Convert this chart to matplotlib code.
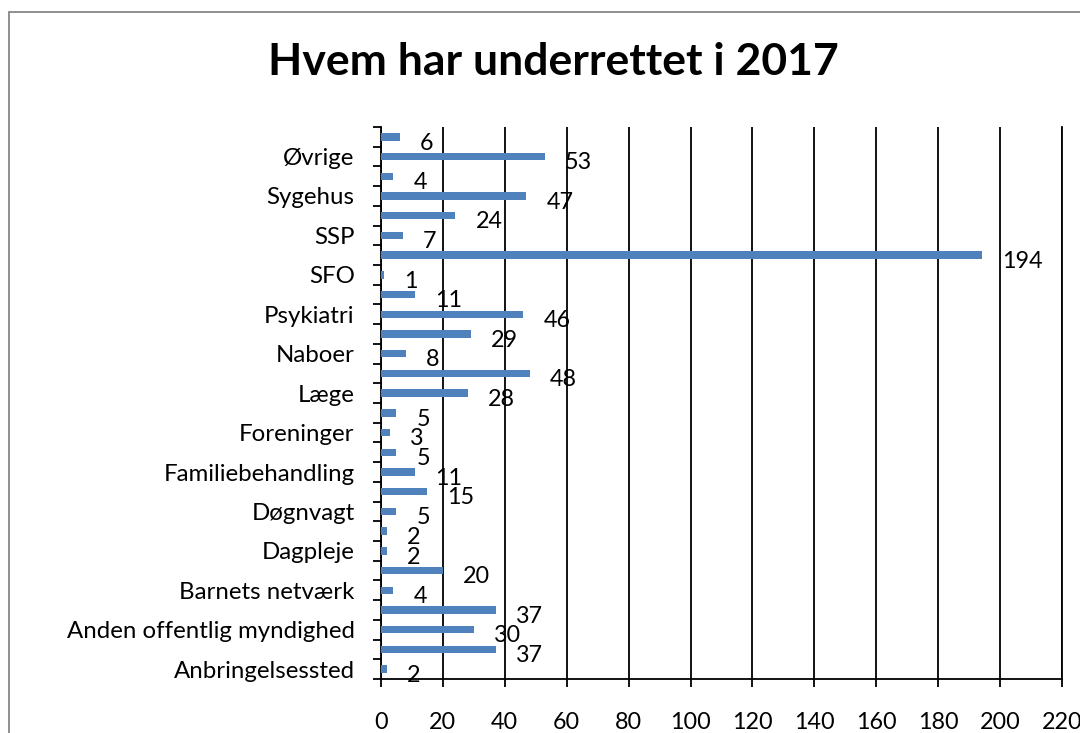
import matplotlib
matplotlib.use("Agg")
import matplotlib.pyplot as plt
from matplotlib.patches import Rectangle
from matplotlib.transforms import ScaledTranslation

plt.rcParams['font.family'] = ['Lato', 'DejaVu Sans']

title = "Hvem har underrettet i 2017"
categories = ["Anbringelsessted", "", "Anden offentlig myndighed", "", "Barnets netværk", "",
              "Dagpleje", "", "Døgnvagt", "", "Familiebehandling", "", "Foreninger", "",
              "Læge", "", "Naboer", "", "Psykiatri", "", "SFO", "", "SSP", "",
              "Sygehus", "", "Øvrige", ""]
values = [2, 37, 30, 37, 4, 20, 2, 2, 5, 15, 11, 5, 3, 5,
          28, 48, 8, 29, 46, 11, 1, 194, 7, 24, 47, 4, 53, 6]
xticks = list(range(0, 221, 20))

fig = plt.figure(figsize=(10.8, 7.33), dpi=100)
W, H = 1080, 733

# chart border
fig.patches.append(Rectangle((9 / W, -0.1), 1.2, 1 - 12 / H + 0.1, transform=fig.transFigure,
                             fill=False, edgecolor='#868686', linewidth=1.3))

ax = fig.add_axes([381 / W, 1 - 679 / H, (1062 - 381) / W, (679 - 127) / H])
ypos = list(range(len(values)))
ax.barh(ypos, values, height=0.37, color='#4F81BD', zorder=3)

for y, v in zip(ypos, values):
    ax.annotate(str(v), (v, y), xytext=(14.5, -4.5), textcoords='offset points',
                ha='left', va='center', fontsize=16.8, color='black', zorder=4)

ax.set_xlim(0, 220)
ax.set_ylim(-0.5, len(values) - 0.5)
ax.set_xticks(xticks)
ax.set_xticklabels([str(t) for t in xticks], fontsize=16.8)
ax.set_yticks(ypos)
ax.set_yticklabels(categories, fontsize=17.3)
ax.set_yticks([k - 0.5 for k in range(len(values) + 1)], minor=True)

shift = ScaledTranslation(0, -2 / 100, fig.dpi_scale_trans)
for lab in ax.get_yticklabels():
    lab.set_transform(lab.get_transform() + shift)

ax.tick_params(axis='y', which='major', length=0, pad=19)
ax.tick_params(axis='y', which='minor', length=6, width=1.3, direction='out', color='black')
ax.tick_params(axis='x', which='major', length=6, width=1.3, direction='out', pad=18, color='black')

ax.grid(axis='x', color='black', linewidth=1.3, zorder=1)
ax.set_axisbelow(True)
ax.spines['top'].set_visible(False)
for s in ['left', 'bottom', 'right']:
    ax.spines[s].set_color('black')
    ax.spines[s].set_linewidth(1.3)

fig.text(553 / W, 1 - 62 / H, title, ha='center', va='center', fontsize=32, fontweight='bold')

fig.savefig('out.png', dpi=100)
